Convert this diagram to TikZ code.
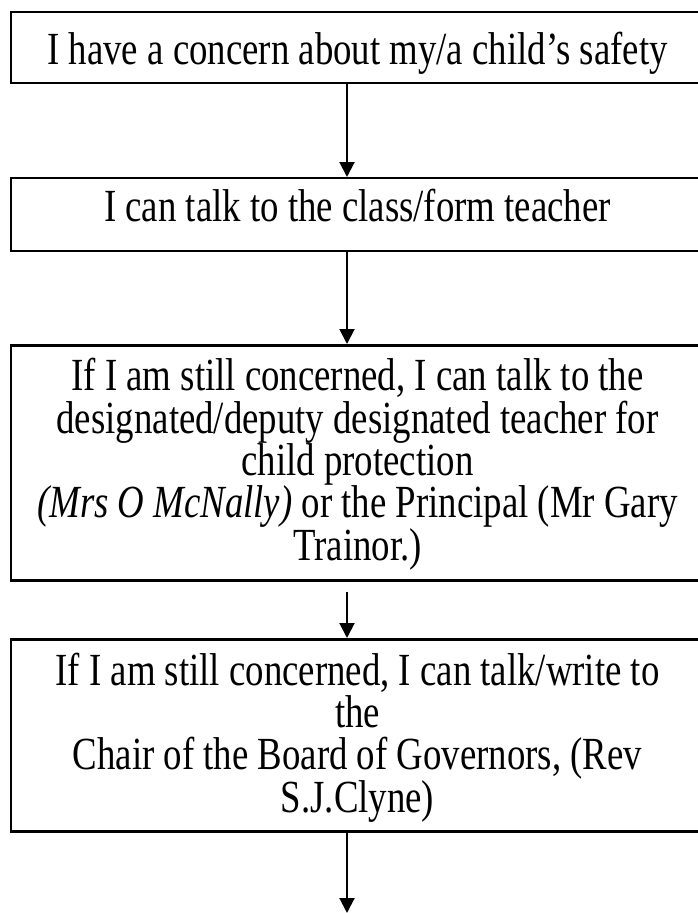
\documentclass[tikz,border=0pt]{standalone}
\usepackage{fontspec}
\newfontfamily\tnr[FakeStretch=0.80]{Liberation Serif}
\usetikzlibrary{arrows.meta}
\begin{document}
\begin{tikzpicture}[x=1pt,y=1pt,
  box/.style={draw=black, line width=2pt, minimum width=693pt, inner sep=0pt, anchor=north},
  thickbox/.style={box, line width=2.7pt},
  txt/.style={font=\tnr\fontsize{46}{42.3}\selectfont, inner sep=0pt, anchor=base},
  arr/.style={line width=2pt, -{Triangle[length=15pt,width=15pt]}}]
\useasboundingbox (0,0) rectangle (697,-913);
\coordinate (ax) at (347,0);
\coordinate (endpt) at (347,-913);
% boxes
\node[box, minimum height=71pt] (b1) at (357.5,-11) {};
\node[box, minimum height=73pt] (b2) at (357.5,-177) {};
\node[thickbox, minimum height=235pt] (b3) at (357.5,-344) {};
\node[thickbox, minimum height=192pt] (b4) at (357.5,-638) {};
% texts
\node[txt] (t1) at (357.5,-64) {I have a concern about my/a child’s safety};
\node[txt] (t2) at (357.5,-221) {I can talk to the class/form teacher};
\node[txt] (t3a) at (357.5,-390.8) {If I am still concerned, I can talk to the};
\node[txt] (t3b) at (357.5,-433.1) {designated/deputy designated teacher for};
\node[txt] (t3c) at (357.5,-475.4) {child protection};
\node[txt] (t3d) at (357.5,-517.7) {\textit{(Mrs O McNally)} or the Principal (Mr Gary};
\node[txt] (t3e) at (357.5,-560) {Trainor.)};
\node[txt] (t4a) at (357.5,-685) {If I am still concerned, I can talk/write to};
\node[txt] (t4b) at (357.5,-727.3) {the};
\node[txt] (t4c) at (357.5,-769.6) {Chair of the Board of Governors, (Rev};
\node[txt] (t4d) at (357.5,-812) {S.J.Clyne)};
% arrows
\draw[arr] (b1.south -| ax) -- (b2.north -| ax);
\draw[arr] (b2.south -| ax) -- (b3.north -| ax);
\draw[arr] ([yshift=-10pt]b3.south -| ax) -- (b4.north -| ax);
\draw[arr] (b4.south -| ax) -- (endpt);
\end{tikzpicture}
\end{document}
